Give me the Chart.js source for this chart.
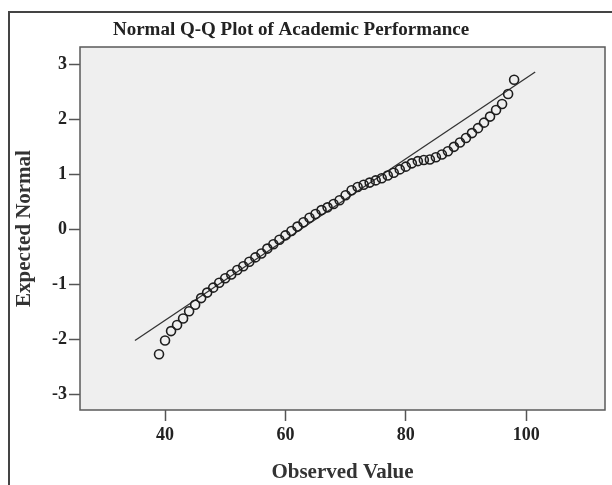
<!DOCTYPE html>
<html>
<head>
<meta charset="utf-8">
<script src="https://cdn.jsdelivr.net/npm/chart.js@4"></script>
<style>
  html, body { margin: 0; padding: 0; background: #fff; }
  #wrap { width: 612px; height: 485px; position: relative; }
</style>
</head>
<body>
<div id="wrap"><canvas id="qqChart" width="612" height="485"></canvas></div>
<script>
// ---- data ----
const observedValues = [39, 40, 41, 42, 43, 44, 45, 46, 47, 48, 49, 50, 51, 52, 53, 54, 55, 56, 57, 58,
    59, 60, 61, 62, 63, 64, 65, 66, 67, 68, 69, 70, 71, 72, 73, 74, 75, 76, 77, 78,
    79, 80, 81, 82, 83, 84, 85, 86, 87, 88, 89, 90, 91, 92, 93, 94, 95, 96, 97, 98];
const expectedNormal = [-2.27, -2.02, -1.85, -1.74, -1.62, -1.49, -1.37, -1.25, -1.15, -1.06,
    -0.97, -0.89, -0.82, -0.74, -0.67, -0.59, -0.51, -0.44, -0.35, -0.27,
    -0.19, -0.11, -0.03, 0.05, 0.13, 0.21, 0.28, 0.35, 0.40, 0.46,
    0.53, 0.62, 0.71, 0.77, 0.81, 0.85, 0.89, 0.93, 0.98, 1.03,
    1.09, 1.14, 1.20, 1.24, 1.26, 1.27, 1.31, 1.36, 1.42, 1.50,
    1.58, 1.66, 1.75, 1.84, 1.94, 2.05, 2.17, 2.28, 2.46, 2.72];
const lineX = [35, 101.5];
const lineY = [-2.02, 2.86];
const xTicks = [40, 60, 80, 100];
const yTicks = [-3, -2, -1, 0, 1, 2, 3];

const serif = 'Liberation Serif';

// plot background, frame and chart title
const decor = {
    id: 'decor',
    beforeDraw(chart) {
        const { ctx, chartArea: a } = chart;
        ctx.save();
        ctx.fillStyle = '#efefef';
        ctx.fillRect(a.left, a.top, a.right - a.left, a.bottom - a.top);
        ctx.restore();
    },
    afterDraw(chart) {
        const { ctx, chartArea: a } = chart;
        ctx.save();
        ctx.strokeStyle = '#5a5a5a';
        ctx.lineWidth = 1.5;
        ctx.strokeRect(a.left, a.top, a.right - a.left, a.bottom - a.top);
        // outer frame
        ctx.strokeStyle = '#444';
        ctx.lineWidth = 2;
        ctx.beginPath();
        ctx.moveTo(9, 485);
        ctx.lineTo(9, 12);
        ctx.lineTo(612, 12);
        ctx.stroke();
        // title
        ctx.fillStyle = '#222';
        ctx.font = 'bold 19px ' + serif;
        ctx.textAlign = 'center';
        ctx.textBaseline = 'middle';
        ctx.fillText('Normal Q-Q Plot of Academic Performance', 291, 30);
        ctx.restore();
    }
};

const ctx = document.getElementById('qqChart').getContext('2d');
const qqChart = new Chart(ctx, {
    type: 'scatter',
    data: {
        datasets: [{
            data: observedValues.map((v, i) => ({ x: v, y: expectedNormal[i] })),
            pointStyle: 'circle',
            pointRadius: 4.5,
            pointBorderWidth: 1.6,
            borderColor: '#1e1e1e',
            backgroundColor: 'rgba(0,0,0,0)'
        }, {
            data: lineX.map((v, i) => ({ x: v, y: lineY[i] })),
            showLine: true,
            borderColor: '#333',
            borderWidth: 1.3,
            pointRadius: 0
        }]
    },
    options: {
        responsive: false,
        animation: false,
        layout: { padding: { left: 0, right: 7, top: 47, bottom: 0 } },
        plugins: {
            legend: { display: false },
            tooltip: { enabled: false }
        },
        scales: {
            x: {
                type: 'linear',
                min: 25.87,
                max: 113.1,
                afterBuildTicks: s => { s.ticks = xTicks.map(v => ({ value: v })); },
                afterFit: s => { s.height = 75; },
                grid: { drawOnChartArea: false, tickLength: 11, color: '#555', tickWidth: 1.5 },
                border: { display: false },
                ticks: { color: '#222', padding: 4, font: { family: serif, size: 18, weight: 'bold' } },
                title: {
                    display: true,
                    text: 'Observed Value',
                    color: '#333',
                    padding: { top: 0, bottom: 0 },
                    font: { family: serif, size: 21, weight: 'bold' }
                }
            },
            y: {
                type: 'linear',
                min: -3.285,
                max: 3.315,
                afterBuildTicks: s => { s.ticks = yTicks.map(v => ({ value: v })); },
                afterFit: s => { s.width = 80; },
                grid: { drawOnChartArea: false, tickLength: 11, color: '#555', tickWidth: 1.5 },
                border: { display: false },
                ticks: { color: '#222', padding: 2, font: { family: serif, size: 18, weight: 'bold' } },
                title: {
                    display: true,
                    text: 'Expected Normal',
                    color: '#333',
                    padding: { top: 12, bottom: 0 },
                    font: { family: serif, size: 21, weight: 'bold' }
                }
            }
        }
    },
    plugins: [decor]
});
</script>
</body>
</html>
